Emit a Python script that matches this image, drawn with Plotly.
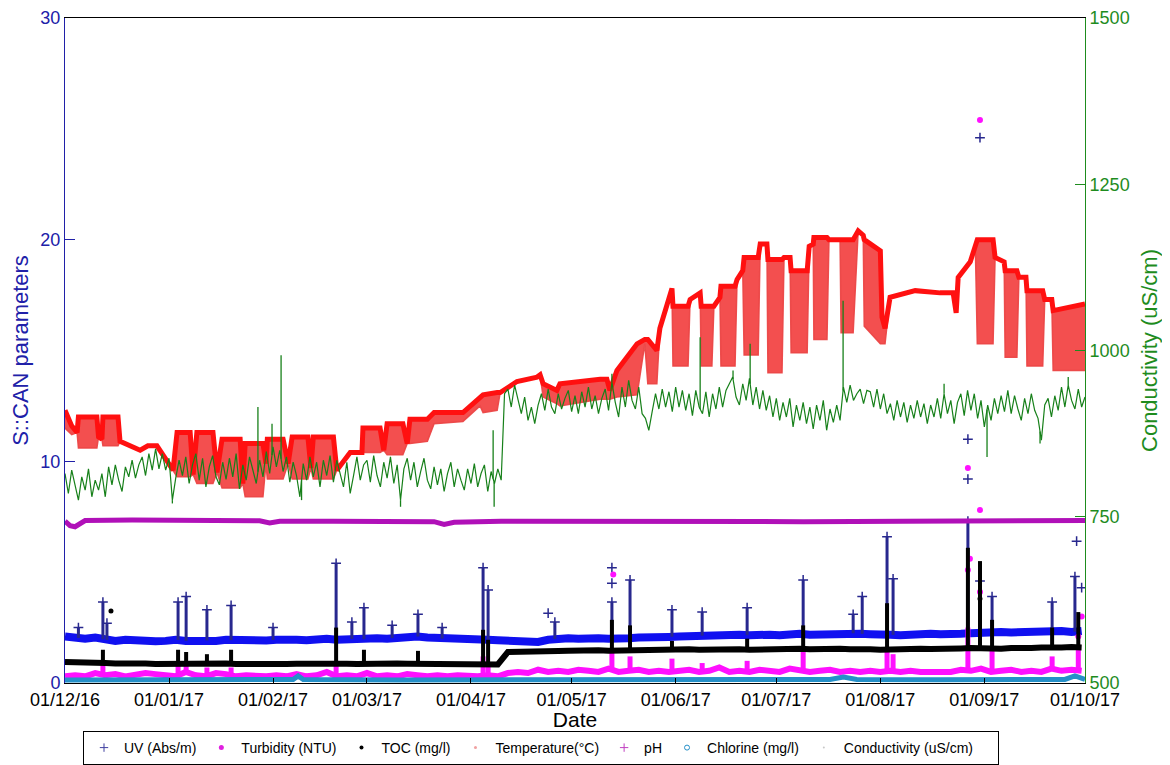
import numpy as np
import pandas as pd
import plotly.graph_objects as go

START = pd.Timestamp("2016-12-01")
day3 = list(range(0, 304, 3))  # sampling days of the banded series
day1 = list(range(0, 305))     # sampling days of conductivity

uv_base = [2.10, 2.05, 2.00, 2.05, 1.95, 1.90, 1.95, 1.90, 1.92, 1.88,
           1.90, 1.95, 1.90, 1.88, 1.92, 1.90, 1.95, 1.92, 1.90, 1.95,
           1.92, 1.95, 1.98, 1.95, 1.93, 1.97, 2.00, 1.95, 1.98, 2.00,
           1.97, 2.02, 2.00, 2.05, 2.08, 2.10, 2.05, 2.02, 1.98, 1.95,
           1.95, 1.97, 1.95, 1.93, 1.90, 1.85, 1.80, 1.85, 1.95, 2.00,
           2.02, 2.00, 2.05, 2.02, 2.00, 1.98, 2.02, 2.05, 2.03, 2.05,
           2.08, 2.10, 2.12, 2.15, 2.10, 2.12, 2.15, 2.18, 2.15, 2.20,
           2.18, 2.15, 2.20, 2.22, 2.18, 2.20, 2.22, 2.20, 2.25, 2.22,
           2.20, 2.15, 2.18, 2.15, 2.20, 2.18, 2.22, 2.20, 2.25, 2.22,
           2.25, 2.28, 2.25, 2.30, 2.28, 2.30, 2.32, 2.28, 2.30, 2.35,
           2.30, 2.35]
uv_spike_day = [4.0, 11.3, 12.5, 33.7, 36.1, 42.3, 49.5, 62.0, 80.8, 85.5, 89.1, 97.5, 105.2,
                112.4, 124.6, 126.1, 146.0, 163.0, 168.4, 180.9, 189.9, 203.3, 220.0,
                234.9, 237.6, 245.0, 246.8, 269.1, 276.3, 294.2, 301.0]
uv_spike_val = [2.5, 3.65, 2.7, 3.65, 3.9, 3.3, 3.5, 2.5, 5.4, 2.75, 3.4, 2.6, 3.1,
                2.5, 5.2, 4.2, 2.75, 3.65, 4.65, 3.3, 3.2, 3.4, 4.65,
                3.1, 3.9, 6.6, 4.7, 7.3, 3.9, 3.65, 4.8]
uv_out_day = [144.0, 163.0, 163.0, 269.1, 269.1, 272.7, 272.7, 301.5, 303.0]
uv_out_val = [3.15, 5.2, 4.5, 9.2, 11.0, 24.6, 4.6, 6.4, 4.3]

toc_base = [0.95, 0.95, 0.92, 0.95, 0.90, 0.88, 0.90, 0.87, 0.88, 0.86,
            0.87, 0.88, 0.86, 0.87, 0.85, 0.86, 0.88, 0.86, 0.85, 0.87,
            0.86, 0.88, 0.86, 0.87, 0.88, 0.86, 0.87, 0.88, 0.87, 0.86,
            0.88, 0.87, 0.86, 0.88, 0.87, 0.86, 0.85, 0.86, 0.85, 0.84,
            0.85, 0.84, 0.85, 0.84, 1.40, 1.42, 1.40, 1.43, 1.45, 1.44,
            1.45, 1.47, 1.45, 1.48, 1.46, 1.47, 1.50, 1.48, 1.47, 1.50,
            1.48, 1.50, 1.52, 1.50, 1.52, 1.50, 1.53, 1.52, 1.50, 1.52,
            1.55, 1.52, 1.53, 1.55, 1.52, 1.55, 1.53, 1.55, 1.52, 1.54,
            1.52, 1.50, 1.52, 1.53, 1.52, 1.55, 1.53, 1.52, 1.55, 1.56,
            1.58, 1.55, 1.57, 1.55, 1.58, 1.56, 1.58, 1.60, 1.57, 1.60,
            1.62, 1.60]
toc_spike_day = [11.3, 33.7, 36.1, 42.3, 49.5, 80.8, 89.1, 105.2, 124.6, 126.1, 163.0,
                 168.4, 180.9, 203.3, 220.0, 245.0, 269.1, 272.7, 276.3, 294.2, 302.0]
toc_spike_val = [1.5, 1.5, 1.4, 1.3, 1.5, 2.5, 1.5, 1.45, 2.4, 1.95, 2.85,
                 2.6, 1.9, 2.0, 2.6, 3.6, 6.1, 5.5, 2.85, 2.5, 3.2]
toc_out_day = [13.7, 272.7]
toc_out_val = [3.25, 3.8]

turb_base = [0.30, 0.35, 0.30, 0.45, 0.35, 0.40, 0.30, 0.35, 0.45, 0.40,
             0.35, 0.30, 0.50, 0.35, 0.30, 0.45, 0.40, 0.30, 0.35, 0.30,
             0.30, 0.35, 0.30, 0.40, 0.30, 0.35, 0.50, 0.30, 0.35, 0.30,
             0.45, 0.30, 0.35, 0.30, 0.40, 0.35, 0.30, 0.35, 0.30, 0.35,
             0.30, 0.30, 0.35, 0.30, 0.45, 0.50, 0.45, 0.60, 0.50, 0.55,
             0.50, 0.60, 0.55, 0.50, 0.65, 0.50, 0.55, 0.60, 0.50, 0.55,
             0.50, 0.55, 0.60, 0.50, 0.55, 0.70, 0.50, 0.55, 0.50, 0.60,
             0.55, 0.50, 0.65, 0.55, 0.50, 0.55, 0.60, 0.50, 0.55, 0.50,
             0.55, 0.50, 0.55, 0.50, 0.55, 0.50, 0.50, 0.55, 0.50, 0.60,
             0.55, 0.65, 0.50, 0.55, 0.60, 0.50, 0.55, 0.50, 0.65, 0.55,
             0.60, 0.55]
turb_spike_day = [11.3, 33.7, 36.1, 42.3, 49.5, 80.8, 124.6, 126.1, 163.0, 168.4, 180.9,
                  189.9, 203.3, 220.0, 245.0, 246.8, 269.1, 276.3, 294.2, 302.0]
turb_spike_val = [0.9, 0.8, 0.9, 0.7, 0.7, 1.0, 1.2, 0.8, 1.5, 1.2, 1.1,
                  0.9, 1.0, 1.4, 1.5, 1.3, 2.5, 1.5, 1.2, 1.5]
turb_out_day = [163.4, 269.1, 269.7, 269.1, 272.7, 272.7, 272.7, 303.0, 302.0]
turb_out_val = [4.9, 9.7, 5.6, 5.1, 25.4, 7.8, 4.1, 3.0, 2.1]

temp_day = [0, 2, 3.6, 4, 9.5, 10, 11, 11.3, 15.8, 16.4,
            22.4, 24.7, 27.4, 32.2, 33.4, 37.3, 38.2, 39.3, 44.1, 45.3,
            46.8, 52.2, 53.0, 53.7, 59.0, 59.9, 60.3, 65.0, 66.5, 67.7,
            72.4, 73.3, 74.0, 80.0, 81.0, 85.0, 88.5, 88.8, 93.9, 95.0,
            96.0, 100.7, 102.0, 102.8, 108.0, 110.0, 118.6, 123.7, 124.6, 128.8,
            129.7, 134.7, 140.7, 141.6, 142.5, 146.6, 147.5, 159.5, 161.5, 162.4,
            164.5, 170.5, 172.8, 173.7, 176.4, 177.3, 180.9, 181.2, 185.7, 186.3,
            189.3, 189.6, 192.8, 193.4, 195.2, 195.5, 199.7, 200.3, 202.0, 202.4,
            206.6, 207.2, 209.2, 209.5, 213.7, 214.3, 216.1, 216.4, 221.2, 221.8,
            223.0, 223.2, 227.1, 227.7, 231.0, 231.3, 234.9, 236.4, 237.9, 238.2,
            243.0, 243.5, 244.4, 245.9, 253.4, 260.8, 264.7, 265.6, 266.2, 269.8,
            271.3, 271.9, 276.6, 277.2, 279.9, 280.2, 283.7, 284.3, 286.4, 286.7,
            291.4, 292.0, 294.1, 294.5, 304.0]
temp_upper = [12.3, 11.6, 11.3, 12.0, 12.0, 11.1, 11.0, 12.0, 12.0, 10.9,
              10.5, 10.7, 10.7, 9.6, 11.3, 11.3, 9.4, 11.3, 11.3, 9.5,
              11.0, 11.0, 9.0, 10.8, 10.8, 9.9, 11.0, 11.0, 9.9, 11.1,
              11.1, 9.7, 11.1, 11.1, 9.6, 10.4, 10.4, 11.5, 11.5, 10.5,
              11.7, 11.7, 10.8, 11.9, 11.9, 12.2, 12.2, 12.9, 13.0, 13.1,
              13.1, 13.6, 13.8, 13.9, 13.5, 13.2, 13.5, 13.7, 13.7, 13.2,
              14.1, 15.3, 15.5, 15.5, 15.0, 16.0, 17.8, 17.0, 17.0, 17.3,
              17.6, 17.0, 17.0, 17.0, 17.4, 17.9, 17.9, 18.2, 18.6, 19.2,
              19.2, 19.8, 19.8, 19.1, 19.1, 19.2, 19.2, 18.6, 18.6, 19.7,
              19.8, 20.1, 20.1, 20.0, 20.0, 20.0, 20.0, 20.4, 20.2, 20.0,
              19.5, 16.5, 16.0, 17.4, 17.7, 17.6, 17.6, 16.7, 18.3, 19.0,
              19.8, 20.0, 20.0, 19.2, 19.0, 18.6, 18.6, 18.3, 18.3, 17.7,
              17.7, 17.3, 17.3, 16.8, 17.1]
temp_lower = [11.5, 11.2, 11.3, 10.6, 10.6, 11.1, 11.0, 10.7, 10.7, 10.9,
              10.5, 10.7, 10.7, 9.6, 9.3, 9.3, 9.4, 9.0, 9.0, 9.5,
              8.8, 8.8, 9.0, 8.4, 8.4, 9.9, 9.2, 9.2, 9.9, 9.2,
              9.2, 9.7, 9.2, 9.2, 9.6, 10.4, 10.4, 10.4, 10.4, 10.5,
              10.3, 10.3, 10.8, 10.8, 10.9, 11.7, 11.8, 12.5, 12.2, 12.3,
              13.1, 13.6, 13.8, 13.9, 12.9, 12.6, 12.5, 12.8, 12.8, 12.8,
              12.9, 13.0, 15.3, 13.5, 13.5, 16.0, 17.8, 14.3, 14.3, 17.3,
              17.6, 14.3, 14.3, 17.0, 17.4, 14.3, 14.3, 18.2, 18.6, 14.8,
              14.8, 19.8, 19.8, 14.0, 14.0, 19.2, 19.2, 14.9, 14.9, 19.7,
              19.8, 15.5, 15.5, 20.0, 20.0, 15.8, 15.8, 20.4, 20.2, 16.1,
              15.3, 15.3, 15.3, 17.4, 17.7, 17.6, 17.6, 16.7, 18.3, 19.0,
              19.8, 15.3, 15.3, 19.2, 19.0, 14.7, 14.7, 18.3, 18.3, 14.3,
              14.3, 17.3, 17.3, 14.1, 14.1]

ph_day = [0, 1.5, 3, 6, 20, 40, 58, 61, 64, 80, 100, 110, 113, 116, 130, 160, 190, 220, 250, 280, 304]
ph_val = [7.30, 7.10, 7.05, 7.33, 7.35, 7.33, 7.32, 7.22, 7.30, 7.30, 7.30, 7.28, 7.15, 7.25,
          7.30, 7.28, 7.25, 7.28, 7.30, 7.32, 7.33]

chl_day = [0, 40, 68, 69.5, 71, 100, 130, 160, 200, 228, 232, 236, 260, 298, 301, 304]
chl_val = [0.14, 0.14, 0.16, 0.32, 0.16, 0.14, 0.14, 0.14, 0.15, 0.16, 0.27, 0.16, 0.15, 0.16, 0.32, 0.16]

cond_val = [815, 785, 820, 795, 775, 810, 790, 822, 780, 805,
            790, 815, 780, 825, 798, 828, 805, 788, 825, 810,
            835, 808, 828, 840, 812, 845, 820, 852, 822, 845,
            820, 838, 775, 808, 835, 812, 840, 800, 828, 845,
            805, 838, 795, 825, 842, 810, 798, 832, 806, 838,
            810, 845, 792, 828, 805, 840, 818, 800, 835, 810,
            848, 815, 855, 825, 850, 818, 840, 802, 832, 812,
            780, 830, 805, 840, 810, 832, 795, 835, 812, 842,
            802, 835, 815, 795, 832, 785, 812, 840, 805, 828,
            835, 802, 842, 812, 795, 832, 808, 840, 800, 828,
            775, 822, 838, 805, 832, 795, 818, 838, 805, 792,
            825, 798, 822, 788, 815, 832, 795, 822, 805, 790,
            822, 800, 830, 795, 815, 828, 788, 818, 800, 822,
            805, 935, 942, 915, 948, 925, 905, 930, 895, 915,
            890, 918, 935, 910, 942, 915, 905, 935, 912, 928,
            940, 908, 932, 905, 938, 915, 945, 912, 932, 905,
            928, 942, 910, 952, 922, 900, 945, 915, 955, 925,
            912, 945, 905, 898, 880, 908, 935, 912, 942, 915,
            938, 908, 945, 915, 940, 910, 935, 902, 940, 915,
            905, 938, 900, 935, 912, 945, 915, 940, 950, 960,
            930, 918, 950, 925, 958, 918, 945, 912, 940, 910,
            932, 900, 928, 895, 922, 900, 928, 885, 918, 895,
            922, 890, 915, 882, 918, 895, 925, 880, 912, 892,
            918, 895, 945, 922, 948, 925, 935, 942, 920, 940,
            938, 915, 942, 912, 935, 905, 920, 895, 925, 900,
            922, 892, 918, 898, 925, 900, 920, 890, 918, 900,
            928, 898, 935, 905, 925, 890, 922, 935, 902, 940,
            910, 935, 898, 925, 885, 918, 895, 928, 905, 932,
            908, 940, 905, 932, 912, 895, 928, 905, 935, 910,
            898, 865, 918, 928, 900, 932, 910, 945, 915, 948,
            925, 912, 942, 915, 930]
cond_spike_day = [32.0, 57.5, 61.7, 64.4, 70.5, 100.0, 127.6, 127.9, 163.0, 189.3, 199.1,
                  204.2, 231.9, 262.0, 274.8, 290.6, 299.0]
cond_spike_val = [770, 915, 890, 993, 775, 765, 880, 765, 965, 1020, 970,
                  1010, 1075, 950, 840, 860, 960]


def to_dates(days):
    return [START + pd.Timedelta(days=float(d)) for d in days]


def spike_segments(days, peaks, base_days, base_vals):
    xs, ys = [], []
    for d, p in zip(days, peaks):
        b = float(np.interp(d, base_days, base_vals))
        t = START + pd.Timedelta(days=float(d))
        xs += [t, t, None]
        ys += [b, p, None]
    return xs, ys


C_UV = "#1010f0"
C_UV_DARK = "#28288e"
C_TURB = "#ff10ff"
C_TOC = "#000000"
C_TEMP = "#ff1010"
C_PH = "#b010b8"
C_CHL = "#2590c8"
C_COND = "#17801a"
C_LEFT = "#2020a8"
C_RIGHT = "#1e8c1e"

fig = go.Figure()
X3 = to_dates(day3)
skip = dict(showlegend=False, hoverinfo="skip")

# UV
fig.add_trace(go.Scatter(x=X3, y=uv_base, mode="lines", line=dict(color=C_UV, width=8), **skip))
sx, sy = spike_segments(uv_spike_day, uv_spike_val, day3, uv_base)
fig.add_trace(go.Scatter(x=sx, y=sy, mode="lines", line=dict(color=C_UV_DARK, width=3), **skip))
fig.add_trace(go.Scatter(x=to_dates(uv_spike_day), y=uv_spike_val, mode="markers",
                         marker=dict(symbol="cross-thin-open", size=7, color=C_UV_DARK,
                                     line=dict(color=C_UV_DARK, width=1.5)), **skip))
fig.add_trace(go.Scatter(x=to_dates(uv_out_day), y=uv_out_val, mode="markers",
                         marker=dict(symbol="cross-thin-open", size=7, color=C_UV_DARK,
                                     line=dict(color=C_UV_DARK, width=1.5)), **skip))

# Turbidity
fig.add_trace(go.Scatter(x=X3, y=turb_base, mode="lines", line=dict(color=C_TURB, width=6), **skip))
sx, sy = spike_segments(turb_spike_day, turb_spike_val, day3, turb_base)
fig.add_trace(go.Scatter(x=sx, y=sy, mode="lines", line=dict(color=C_TURB, width=5), **skip))
fig.add_trace(go.Scatter(x=to_dates(turb_out_day), y=turb_out_val, mode="markers",
                         marker=dict(symbol="circle", size=6, color=C_TURB), **skip))

# TOC
fig.add_trace(go.Scatter(x=X3, y=toc_base, mode="lines", line=dict(color=C_TOC, width=6), **skip))
sx, sy = spike_segments(toc_spike_day, toc_spike_val, day3, toc_base)
fig.add_trace(go.Scatter(x=sx, y=sy, mode="lines", line=dict(color=C_TOC, width=4), **skip))
fig.add_trace(go.Scatter(x=to_dates(toc_out_day), y=toc_out_val, mode="markers",
                         marker=dict(symbol="circle", size=5, color=C_TOC), **skip))

# Temperature
TD = to_dates(temp_day)
fig.add_trace(go.Scatter(x=TD, y=temp_lower, mode="lines",
                         line=dict(color="rgba(235,70,70,0.95)", width=1.5), **skip))
fig.add_trace(go.Scatter(x=TD, y=temp_upper, mode="lines", line=dict(color=C_TEMP, width=5),
                         fill="tonexty", fillcolor="rgba(242,60,60,0.9)", **skip))

# pH
fig.add_trace(go.Scatter(x=to_dates(ph_day), y=ph_val, mode="lines", line=dict(color=C_PH, width=5), **skip))

# Chlorine
fig.add_trace(go.Scatter(x=to_dates(chl_day), y=chl_val, mode="lines", line=dict(color=C_CHL, width=5), **skip))

# Conductivity (right axis)
fig.add_trace(go.Scatter(x=to_dates(day1), y=cond_val, mode="lines", line=dict(color=C_COND, width=1.2),
                         yaxis="y2", **skip))
sx, sy = spike_segments(cond_spike_day, cond_spike_val, day1, cond_val)
fig.add_trace(go.Scatter(x=sx, y=sy, mode="lines", line=dict(color=C_COND, width=1.3),
                         yaxis="y2", **skip))

# Legend entries
legend_items = [
    ("UV (Abs/m)", dict(symbol="cross-thin-open", size=6, color="#4040a0", line=dict(color="#4040a0", width=1))),
    ("Turbidity (NTU)", dict(symbol="circle", size=5, color="#e020e0")),
    ("TOC (mg/l)", dict(symbol="circle", size=4, color="#000000")),
    ("Temperature(\u00b0C)", dict(symbol="circle", size=3, color="#f0a0a0")),
    ("pH", dict(symbol="cross-thin-open", size=6, color="#c040c0", line=dict(color="#c040c0", width=1))),
    ("Chlorine (mg/l)", dict(symbol="circle-open", size=5, color=C_CHL, line=dict(color=C_CHL, width=1))),
    ("Conductivity (uS/cm)" + "\u00a0" * 5, dict(symbol="circle", size=2, color="#c8c8c8")),
]
for name, mk in legend_items:
    fig.add_trace(go.Scatter(x=[None], y=[None], mode="markers", name=name, marker=mk,
                             showlegend=True, hoverinfo="skip"))

tick_days = [0, 31, 62, 90, 121, 151, 182, 212, 243, 274, 304]
tick_vals = to_dates(tick_days)
tick_text = ["01/12/16", "01/01/17", "01/02/17", "01/03/17", "01/04/17", "01/05/17",
             "01/06/17", "01/07/17", "01/08/17", "01/09/17", "01/10/17"]

# the page adds an 8 px body margin, so the figure is 8 px smaller on each axis
W, H = 1162, 757
FONT = "Liberation Sans, Arial, sans-serif"
fig.update_layout(
    width=W, height=H,
    margin=dict(l=57, r=85, t=10, b=82),
    paper_bgcolor="white", plot_bgcolor="white",
    font=dict(family=FONT, size=18, color="black"),
    xaxis=dict(range=[START, START + pd.Timedelta(days=304)], tickmode="array",
               tickvals=tick_vals, ticktext=tick_text, ticks="inside", ticklen=5,
               tickcolor="black", showline=True, linecolor="black", linewidth=1, mirror=True,
               showgrid=False, zeroline=False, tickfont=dict(size=18, color="black"),
               automargin=False,
               title=dict(text="Date", font=dict(size=21, color="black"), standoff=0)),
    yaxis=dict(range=[0, 30], tickvals=[0, 10, 20, 30], ticks="inside", ticklen=10,
               tickcolor=C_LEFT, showline=True, linecolor=C_LEFT, linewidth=1,
               showgrid=False, zeroline=False, tickfont=dict(size=18, color=C_LEFT),
               automargin=False,
               title=dict(text="S::CAN parameters", font=dict(size=22, color=C_LEFT), standoff=10)),
    yaxis2=dict(range=[500, 1500], tickvals=[500, 750, 1000, 1250, 1500], ticks="inside",
                ticklen=10, tickcolor=C_RIGHT, showline=True, linecolor=C_RIGHT, linewidth=1,
                overlaying="y", side="right", showgrid=False, zeroline=False,
                tickfont=dict(size=18, color=C_RIGHT), automargin=False,
                title=dict(text="Conductivity (uS/cm)", font=dict(size=22, color=C_RIGHT), standoff=12)),
    legend=dict(orientation="h", xref="container", yref="container",
                x=(83 - 8) / W, xanchor="left", y=1 - (731 - 8) / H, yanchor="top",
                bordercolor="black", borderwidth=1, bgcolor="white",
                font=dict(family=FONT, size=14, color="black"),
                traceorder="normal", itemwidth=30, tracegroupgap=0),
)

fig.write_html("out.html")
